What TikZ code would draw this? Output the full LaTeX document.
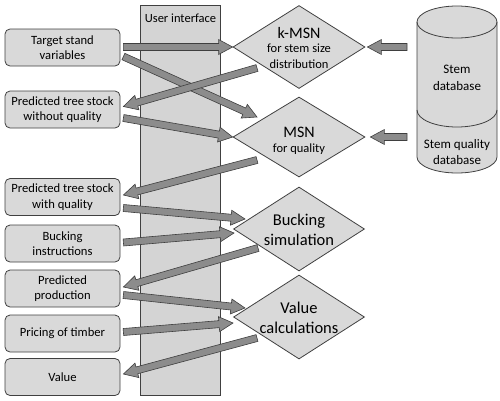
\documentclass[tikz,border=0pt]{standalone}
\usepackage{fontspec}
\setmainfont{Carlito}
\usetikzlibrary{shapes.geometric,calc}
\definecolor{boxfill}{HTML}{D9D9D9}
\definecolor{uifill}{HTML}{D4D4D4}
\definecolor{edge}{HTML}{404040}
\definecolor{arrfill}{HTML}{8C8C8C}
\definecolor{arredge}{HTML}{3F3F3F}
\tikzset{
  inbox/.style={draw=edge, fill=boxfill, line width=0.8pt, rounded corners=5pt,
    minimum width=115pt, minimum height=37pt, inner sep=1pt, align=center,
    font=\fontsize{12.6}{15.5}\selectfont},
  dia/.style={draw=edge, fill=boxfill, line width=0.8pt, diamond, inner sep=0pt,
    minimum width=132pt, minimum height=83pt},
  diatext/.style={align=center, inner sep=0pt},
  dtitle/.style={anchor=base, inner sep=0pt, font=\fontsize{16}{19}\selectfont},
  dsub/.style={anchor=base, inner sep=0pt, font=\fontsize{12.5}{15}\selectfont},
  arrowstyle/.style={fill=arrfill, draw=arredge, line width=0.6pt, line join=miter},
}
\newcommand\barrow[2]{%
  \coordinate (ba-s) at (#1);
  \coordinate (ba-t) at (#2);
  \coordinate (ba-h) at ($(ba-t)!14pt!(ba-s)$);
  \filldraw[arrowstyle] ($(ba-s)!3.5pt!90:(ba-t)$) -- ($(ba-h)!3.5pt!-90:(ba-s)$)
    -- ($(ba-h)!7.5pt!-90:(ba-s)$) -- (ba-t) -- ($(ba-h)!7.5pt!90:(ba-s)$)
    -- ($(ba-h)!3.5pt!90:(ba-s)$) -- ($(ba-s)!3.5pt!-90:(ba-t)$) -- cycle;}
\begin{document}
\begin{tikzpicture}[x=1pt,y=-1pt]
\useasboundingbox (0,0) rectangle (500,400);
% user interface column
\node[draw=edge, fill=uifill, line width=0.8pt, minimum width=80pt, minimum height=390pt, inner sep=0pt] (ui) at (180,200) {};
\node[font=\fontsize{12.5}{15}\selectfont, inner sep=0pt] (uilabel) at (180.5,18) {User interface};
% input/output boxes
\node[inbox] (tsv)   at (62.5,47.5)  {Target stand\\variables};
\node[inbox] (ptsw)  at (62.5,109.5) {Predicted tree stock\\without quality};
\node[inbox] (ptsq)  at (62.5,197)   {Predicted tree stock\\with quality};
\node[inbox] (buck)  at (62.5,243.5) {Bucking\\instructions};
\node[inbox] (pprod) at (62.5,288.5) {Predicted\\production};
\node[inbox] (price) at (62.5,333.5) {Pricing of timber};
\node[inbox] (val)   at (62.5,377)   {Value};
% diamonds
\node[dia] (kmsn)  at (299,47)  {};
\node[dia, minimum height=80pt] (msn) at (299,137) {};
\node[dia, minimum width=131pt, minimum height=84pt] (bsim)  at (299,229) {};
\node[dia, minimum width=131pt, minimum height=84pt] (vcalc) at (299,317) {};
\node[dtitle] (kmsnt1) at (299,38) {k-MSN};
\node[dsub] (kmsnt2) at (299,52.5) {for stem size};
\node[dsub] (kmsnt3) at (299,68) {distribution};
\node[dtitle] (msnt1) at (299,137.5) {MSN};
\node[dsub] (msnt2) at (299,152) {for quality};
\node[diatext, font=\fontsize{16.5}{20}\selectfont] (bsimt) at (299,230) {Bucking\\simulation};
\node[diatext, font=\fontsize{16.5}{20}\selectfont] (vcalct) at (299,318) {Value\\calculations};
% cylinder database
\filldraw[draw=edge, fill=boxfill, line width=0.8pt]
  (417,22) -- (417,157) arc[start angle=180, end angle=360, x radius=40pt, y radius=16pt]
  -- (497,22) arc[start angle=0, end angle=180, x radius=40pt, y radius=16pt] -- cycle;
\draw[draw=edge, line width=0.8pt] (417,22) arc[start angle=180, end angle=360, x radius=40pt, y radius=16pt];
\draw[draw=edge, line width=0.8pt] (417,110) arc[start angle=180, end angle=360, x radius=40pt, y radius=17pt];
\coordinate (cylW) at (417,47);
\node[align=center, font=\fontsize{13}{16.5}\selectfont, inner sep=0pt] (stemdb) at (457,78) {Stem\\database};
\node[align=center, font=\fontsize{13}{16.5}\selectfont, inner sep=0pt] (stemqdb) at (457,152) {Stem quality\\database};
% arrows
\barrow{$(tsv.east)+(3,-0.5)$}{kmsn.west}
\barrow{$(tsv.east)+(3,9)$}{$(msn)+(-42,-20)$}
\barrow{$(kmsn)+(-42,21)$}{$(ptsw.east)+(3,-3)$}
\barrow{$(ptsw.east)+(3,8.5)$}{msn.west}
\barrow{$(msn)+(-42,23)$}{$(ptsq.east)+(3,-2)$}
\barrow{$(cylW)+(-10,0)$}{$(kmsn.east)+(2,0)$}
\barrow{$(cylW)+(-10,90)$}{$(msn.east)+(5,0)$}
\barrow{$(ptsq.east)+(3,11)$}{$(bsim)+(-54,-10)$}
\barrow{$(buck.east)+(3,-1)$}{$(bsim)+(-65,4)$}
\barrow{$(bsim)+(-41,19)$}{$(pprod.east)+(3,-1.5)$}
\barrow{$(pprod.east)+(3,6.5)$}{$(vcalc)+(-54,-9)$}
\barrow{$(price.east)+(3,-1.5)$}{$(vcalc)+(-66,6)$}
\barrow{$(vcalc)+(-42,21)$}{$(val.east)+(3,-3)$}
\end{tikzpicture}
\end{document}
